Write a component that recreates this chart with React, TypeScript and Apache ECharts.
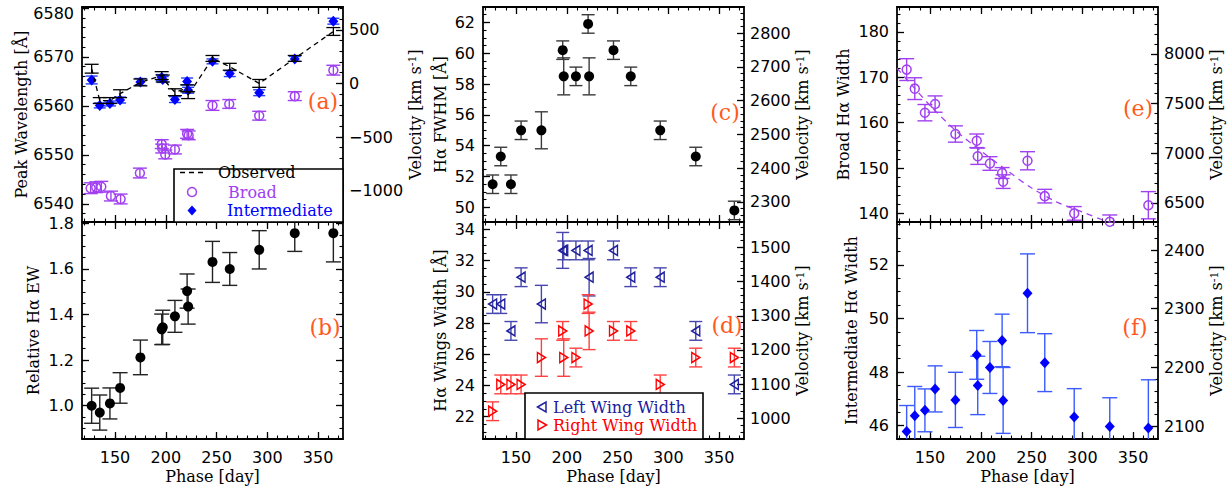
import React, { useEffect, useRef } from 'react';
import * as echarts from 'echarts';

const C_KMS = 299792.458;
const HALPHA = 6564.6;

// common epochs (days)
const phase = [127, 135, 145, 155, 175, 196, 197, 209, 221, 222, 246, 263, 292, 327, 365];

// (a) peak wavelengths
const observedPeak = [6567.6, 6561.1, 6561.1, 6562.5, 6564.8, 6566.2, 6565.6, 6562.8, 6563.6, 6562.2, 6569.7, 6568.0, 6564.6, 6569.7, 6575.2];
const observedPeakErr = [0.9, 0.6, 0.6, 0.8, 0.7, 0.8, 0.7, 0.7, 0.7, 0.7, 0.6, 0.7, 0.8, 0.6, 0.8];
const intermediatePeak = [6565.3, 6560.1, 6560.5, 6561.2, 6564.9, 6565.8, 6565.4, 6561.3, 6565.0, 6563.2, 6569.1, 6566.6, 6562.7, 6569.6, 6577.3];
const intermediatePeakErr = [0.8, 0.5, 0.5, 0.6, 0.7, 0.6, 0.6, 0.6, 0.7, 0.6, 0.5, 0.6, 0.6, 0.5, 0.6];
const broadPhase = [126, 131.5, 136.5, 146, 155.5, 174.5, 196, 196.5, 199.5, 209, 221, 222.5, 246, 262.5, 292, 327, 365];
const broadPeak = [6543.2, 6543.4, 6543.5, 6541.6, 6541.0, 6546.3, 6552.2, 6551.3, 6550.1, 6551.1, 6554.3, 6554.0, 6560.1, 6560.4, 6558.0, 6562.0, 6567.3];
const broadPeakErr = [1.1, 1.1, 1.1, 1.0, 1.0, 1.0, 0.9, 0.9, 0.9, 0.9, 0.9, 0.9, 1.0, 0.9, 0.9, 0.9, 1.0];

// (b) relative EW
const relEW = [1.0, 0.97, 1.01, 1.078, 1.212, 1.335, 1.344, 1.392, 1.503, 1.435, 1.631, 1.6, 1.684, 1.757, 1.757];
const relEWErr = [0.077, 0.077, 0.068, 0.067, 0.076, 0.067, 0.075, 0.07, 0.075, 0.077, 0.09, 0.072, 0.084, 0.08, 0.126];

// (c) FWHM
const fwhm = [51.5, 53.3, 51.5, 55.0, 55.0, 60.2, 58.5, 58.5, 61.9, 58.5, 60.2, 58.5, 55.0, 53.3, 49.8];
const fwhmErr = [0.6, 0.6, 0.6, 0.6, 1.2, 0.6, 1.2, 0.6, 0.6, 1.2, 0.6, 0.6, 0.6, 0.6, 0.6];

// (d) wings
const leftWing = [29.22, 29.22, 27.5, 30.94, 29.22, 32.66, 32.66, 32.66, 32.66, 30.94, 32.66, 30.94, 30.94, 27.5, 24.07];
const leftWingErr = [0.6, 0.6, 0.6, 0.6, 1.2, 1.15, 0.6, 0.6, 0.6, 1.2, 0.6, 0.6, 0.6, 0.6, 0.6];
const rightWing = [22.35, 24.07, 24.07, 24.07, 25.79, 27.5, 25.79, 25.79, 29.22, 27.5, 27.5, 27.5, 24.07, 25.79, 25.79];
const rightWingErr = [0.6, 0.6, 0.6, 0.6, 1.2, 0.6, 1.2, 0.6, 0.6, 1.2, 0.6, 0.6, 0.6, 0.6, 0.6];

// (e) broad width + fit
const broadWidth = [171.7, 167.5, 162.2, 164.1, 157.5, 156.0, 152.6, 151.0, 148.9, 147.0, 151.6, 143.8, 140.0, 138.15, 141.8];
const broadWidthErr = [2.4, 2.4, 1.8, 1.8, 1.8, 1.5, 1.8, 1.5, 1.2, 1.5, 2.0, 1.5, 1.5, 1.5, 3.0];
const fitPhase = [117.5, 130, 150, 175, 200, 225, 250, 275, 300, 327, 345];
const fitWidth = [172.0, 168.8, 163.8, 158.3, 153.8, 149.6, 145.6, 142.5, 140.3, 138.0, 136.8];

// (f) intermediate width
const interWidth = [45.78, 46.37, 46.57, 47.37, 46.96, 48.64, 47.5, 48.17, 49.18, 46.94, 50.94, 48.35, 46.32, 45.97, 45.91];
const interWidthErr = [0.97, 1.09, 0.8, 0.86, 1.03, 0.91, 1.09, 0.97, 0.98, 1.23, 1.47, 1.08, 1.06, 1.07, 1.8];

const xTickLabels = [150, 200, 250, 300, 350];

const XMIN = 117.5;
const XMAX = 374.5;

const PURPLE = '#a040f0';
const BLUE = '#0000ff';
const NAVY = '#20209c';
const NAVY_BAR = '#4646ae';
const RED = '#ff0000';
const RED_BAR = '#ff4040';
const ORANGE = '#ff5a1e';
const F_SANS = 'DejaVu Sans';
const F_SERIF = 'DejaVu Serif';

const NAME_STYLE = {
  fontFamily: F_SERIF,
  fontSize: 16,
  color: '#000',
  rich: { sup: { fontFamily: F_SERIF, fontSize: 11, verticalAlign: 'top', color: '#000' } },
};

function range(min: number, max: number, step: number) {
  const out: number[] = [];
  const start = Math.ceil(min / step - 1e-9);
  for (let k = start; k * step <= max + 1e-9; k++) out.push(+(k * step).toFixed(6));
  return out;
}

const velShift = (l: number) => (C_KMS * (l - HALPHA)) / HALPHA;
const velWidth = (w: number) => (C_KMS * w) / HALPHA;
const fmtInt = (v: number) => String(Math.round(v)).replace('-', '\u2212');
const fmt1 = (v: number) => v.toFixed(1);
const fmtPeak = (v: number) => (v >= 6580 ? `{low|${Math.round(v)}}` : String(Math.round(v)));

function axisSet(gridIndex: number, position: string, min: number, max: number, majorStep: number, minorStep: number, o: any = {}) {
  const majors = o.majors || range(min, max, majorStep);
  const minors = range(min, max, minorStep);
  const major: any = {
    type: 'value', gridIndex, position, min, max,
    axisLine: { show: true, onZero: false, lineStyle: { color: '#000', width: 1.8 } },
    axisTick: { show: true, inside: true, length: 7, customValues: majors, lineStyle: { color: '#000', width: 1.3 } },
    axisLabel: {
      show: !!o.labels, customValues: majors, formatter: o.fmt || fmtInt, margin: o.labelMargin ?? 8,
      color: '#000', fontFamily: F_SANS, fontSize: 16,
      rich: { low: { fontFamily: F_SANS, fontSize: 16, color: '#000', padding: [12, 0, 0, 0] } },
    },
    splitLine: { show: false },
    name: o.name || '', nameLocation: 'middle', nameGap: o.nameGap ?? 30, nameTextStyle: NAME_STYLE,
  };
  const minor: any = {
    type: 'value', gridIndex, position, min, max,
    axisLine: { show: false, onZero: false },
    axisTick: { show: true, inside: true, length: 3.5, customValues: minors, lineStyle: { color: '#000', width: 1.1 } },
    axisLabel: { show: false },
    splitLine: { show: false },
  };
  return [major, minor];
}

function errorBars(gi: number, xs: number[], ys: number[], es: number[], color: string, cap = 7, width = 1.4) {
  return {
    type: 'custom', xAxisIndex: gi * 4, yAxisIndex: gi * 4, clip: true, silent: true, z: 2,
    data: xs.map((x, i) => [x, ys[i], es[i]]),
    encode: { x: 0, y: 1 },
    renderItem: (_p: any, api: any) => {
      const x = api.value(0), y = api.value(1), e = api.value(2);
      const t = api.coord([x, y + e]);
      const b = api.coord([x, y - e]);
      const style = { stroke: color, lineWidth: width, fill: 'none' };
      return {
        type: 'group',
        children: [
          { type: 'line', shape: { x1: t[0], y1: t[1], x2: b[0], y2: b[1] }, style },
          { type: 'line', shape: { x1: t[0] - cap, y1: t[1], x2: t[0] + cap, y2: t[1] }, style },
          { type: 'line', shape: { x1: b[0] - cap, y1: b[1], x2: b[0] + cap, y2: b[1] }, style },
        ],
      };
    },
  };
}

function scatter(gi: number, xs: number[], ys: number[], symbol: string, size: any, itemStyle: any) {
  return {
    type: 'scatter', xAxisIndex: gi * 4, yAxisIndex: gi * 4, symbol, symbolSize: size,
    itemStyle: { opacity: 1, ...itemStyle }, z: 3, silent: true,
    data: xs.map((x, i) => [x, ys[i]]),
  };
}

const LEFT_TRI = 'path://M0,5L10,0L10,10Z';
const RIGHT_TRI = 'path://M10,5L0,0L0,10Z';
const hollow = (c: string) => ({ color: 'rgba(0,0,0,0)', borderColor: c, borderWidth: 1.5 });

export default function App() {
  const ref = useRef<HTMLDivElement>(null);
  useEffect(() => {
    if (!ref.current) return;
    const chart = echarts.init(ref.current, undefined, { renderer: 'svg' });
    const cols = [82, 483, 897];
    const grids: any[] = [];
    for (let c = 0; c < 3; c++) {
      grids.push({ left: cols[c], top: 7, width: 261, height: 215, containLabel: false, outerBoundsMode: 'none' });
      grids.push({ left: cols[c], top: 222, width: 261, height: 217, containLabel: false, outerBoundsMode: 'none' });
    }
    const panels = [
      { ymin: 6536.3, ymax: 6580.2, maj: 10, min: 2, fmt: fmtPeak, name: 'Peak Wavelength [Å]', gap: 52, v: velShift, vmaj: 500, vmin: 100, vgap: 57 },
      { ymin: 0.854, ymax: 1.806, maj: 0.2, min: 0.05, fmt: fmt1, name: 'Relative Hα EW', gap: 41, v: null },
      { ymin: 49.05, ymax: 63.0, maj: 2, min: 0.5, fmt: fmtInt, name: 'Hα FWHM [Å]', gap: 35, v: velWidth, vmaj: 100, vmin: 20, vgap: 48 },
      { ymin: 20.57, ymax: 34.48, maj: 2, min: 0.5, fmt: fmtInt, name: 'Hα Wings Width [Å]', gap: 35, v: velWidth, vmaj: 100, vmin: 20, vgap: 48 },
      { ymin: 138.1, ymax: 185.5, maj: 10, min: 2, fmt: fmtInt, name: 'Broad Hα Width', gap: 46, v: velWidth, vmaj: 500, vmin: 100, vgap: 48 },
      { ymin: 45.5, ymax: 53.6, maj: 2, min: 0.5, fmt: fmtInt, name: 'Intermediate Hα Width', gap: 38, v: velWidth, vmaj: 100, vmin: 20, vgap: 48 },
    ];
    const xAxis: any[] = [];
    const yAxis: any[] = [];
    panels.forEach((p: any, gi) => {
      const bottom = gi % 2 === 1;
      xAxis.push(...axisSet(gi, 'bottom', XMIN, XMAX, 50, 10, { labels: bottom, majors: xTickLabels, fmt: (v: number) => String(v), name: bottom ? 'Phase [day]' : '', nameGap: 29, labelMargin: 10 }));
      xAxis.push(...axisSet(gi, 'top', XMIN, XMAX, 50, 10, { majors: xTickLabels }));
      yAxis.push(...axisSet(gi, 'left', p.ymin, p.ymax, p.maj, p.min, { labels: true, fmt: p.fmt, name: p.name, nameGap: p.gap, labelMargin: 8 }));
      if (p.v) {
        const a = p.v(p.ymin), b = p.v(p.ymax);
        yAxis.push(...axisSet(gi, 'right', a, b, p.vmaj, p.vmin, { labels: true, fmt: fmtInt, name: 'Velocity [km s{sup|-1}]', nameGap: p.vgap, labelMargin: 6 }));
      } else {
        yAxis.push(...axisSet(gi, 'right', p.ymin, p.ymax, p.maj, p.min, {}));
      }
    });

    const series: any[] = [
      // (a)
      errorBars(0, broadPhase, broadPeak, broadPeakErr, PURPLE, 7),
      scatter(0, broadPhase, broadPeak, 'circle', 9, hollow(PURPLE)),
      errorBars(0, phase, intermediatePeak, intermediatePeakErr, '#2040ff', 6),
      scatter(0, phase, intermediatePeak, 'diamond', [10, 11], { color: BLUE }),
      {
        type: 'line', xAxisIndex: 0, yAxisIndex: 0, showSymbol: false, symbol: 'none', z: 4, silent: true,
        data: phase.map((x, i) => [x, observedPeak[i]]),
        lineStyle: { color: '#000', width: 1.3, type: [5, 4] },
      },
      { ...errorBars(0, phase, observedPeak, observedPeakErr, '#000', 7, 1.3), z: 5 },
      // (b)
      errorBars(1, phase, relEW, relEWErr, '#222', 7.5),
      scatter(1, phase, relEW, 'circle', 10, { color: '#000' }),
      // (c)
      errorBars(2, phase, fwhm, fwhmErr, '#3a3a3a', 6.5),
      scatter(2, phase, fwhm, 'circle', 10, { color: '#000' }),
      // (d)
      errorBars(3, phase, leftWing, leftWingErr, NAVY_BAR, 6.5),
      scatter(3, phase, leftWing, LEFT_TRI, [8, 10], hollow(NAVY)),
      errorBars(3, phase, rightWing, rightWingErr, RED_BAR, 6.5),
      scatter(3, phase, rightWing, RIGHT_TRI, [8, 10], hollow(RED)),
      // (e)
      {
        type: 'line', xAxisIndex: 16, yAxisIndex: 16, showSymbol: false, symbol: 'none', smooth: 0.3, z: 2, silent: true,
        data: fitPhase.map((x, i) => [x, fitWidth[i]]),
        lineStyle: { color: PURPLE, width: 1.3, type: [6, 5] },
      },
      errorBars(4, phase, broadWidth, broadWidthErr, PURPLE, 7.5),
      scatter(4, phase, broadWidth, 'circle', 9, hollow(PURPLE)),
      // (f)
      errorBars(5, phase, interWidth, interWidthErr, '#3b5bff', 7.5),
      scatter(5, phase, interWidth, 'diamond', [10, 11], { color: BLUE }),
    ];

    const txt = (text: string, x: number, y: number, fill: string, size = 16, extra: any = {}) => ({
      type: 'text', z: 101, silent: true,
      style: { text, x, y, fill, font: `${size}px "${F_SERIF}"`, verticalAlign: 'middle', align: 'left', ...extra },
    });

    const graphic: any[] = [
      // legend (a)
      { type: 'rect', z: 100, silent: true, shape: { x: 174, y: 169, width: 169, height: 53 }, style: { fill: '#fff', stroke: '#000', lineWidth: 1.6 } },
      { type: 'line', z: 101, silent: true, shape: { x1: 180, y1: 172.5, x2: 207, y2: 172.5 }, style: { stroke: '#000', lineWidth: 1.4, lineDash: [5, 4] } },
      txt('Observed', 218, 172.5, '#000'),
      { type: 'circle', z: 101, silent: true, shape: { cx: 192, cy: 192, r: 4.5 }, style: { fill: 'none', stroke: PURPLE, lineWidth: 1.5 } },
      txt('Broad', 228, 192.5, PURPLE),
      { type: 'polygon', z: 101, silent: true, shape: { points: [[192, 205.5], [196.5, 210.5], [192, 215.5], [187.5, 210.5]] }, style: { fill: BLUE } },
      txt('Intermediate', 227, 210.5, BLUE),
      // legend (d)
      { type: 'rect', z: 100, silent: true, shape: { x: 525, y: 393, width: 178, height: 46 }, style: { fill: '#fff', stroke: '#000', lineWidth: 1.6 } },
      { type: 'polygon', z: 101, silent: true, shape: { points: [[537.5, 407], [546, 402], [546, 412]] }, style: { fill: 'none', stroke: NAVY, lineWidth: 1.5 } },
      txt('Left Wing Width', 553, 407, NAVY),
      { type: 'polygon', z: 101, silent: true, shape: { points: [[546.5, 425], [538, 420], [538, 430]] }, style: { fill: 'none', stroke: RED, lineWidth: 1.5 } },
      txt('Right Wing Width', 553, 425, RED),
      // panel labels
      txt('(a)', 323, 101, ORANGE, 22, { align: 'center' }),
      txt('(b)', 325, 327, ORANGE, 22, { align: 'center' }),
      txt('(c)', 725, 112, ORANGE, 22, { align: 'center' }),
      txt('(d)', 727, 325, ORANGE, 22, { align: 'center' }),
      txt('(e)', 1138, 108, ORANGE, 22, { align: 'center' }),
      txt('(f)', 1135, 327, ORANGE, 22, { align: 'center' }),
    ];

    chart.setOption({
      animation: false,
      backgroundColor: '#fff',
      grid: grids,
      xAxis,
      yAxis,
      series,
      graphic,
    });
    return () => chart.dispose();
  }, []);
  return <div ref={ref} style={{ position: 'absolute', left: 0, top: 0, width: 1231, height: 491 }} />;
}
